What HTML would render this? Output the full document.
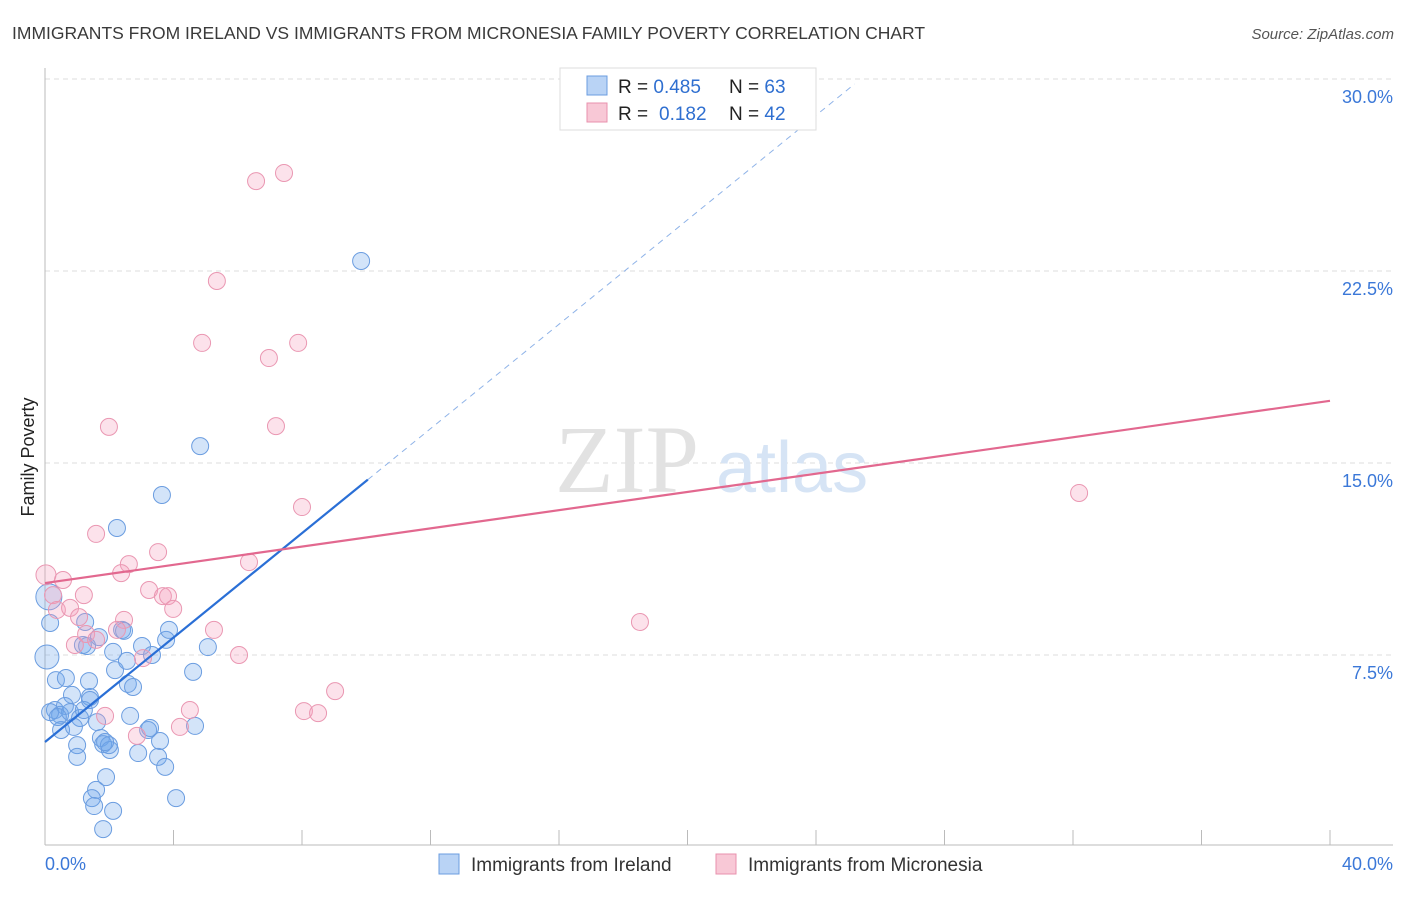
<!DOCTYPE html>
<html><head><meta charset="utf-8"><style>
body{margin:0;background:#fff;font-family:"Liberation Sans",sans-serif;}
</style></head><body>
<svg width="1406" height="892" xmlns="http://www.w3.org/2000/svg" style="font-family:'Liberation Sans',sans-serif">
<text x="12" y="39" font-size="17.5" fill="#3a3a3a">IMMIGRANTS FROM IRELAND VS IMMIGRANTS FROM MICRONESIA FAMILY POVERTY CORRELATION CHART</text>
<text x="1394" y="39" font-size="15" fill="#555" font-style="italic" text-anchor="end">Source: ZipAtlas.com</text>
<g id="grid"></g>
<g id="axes"></g>
<text x="555" y="492" font-size="96" fill="#e2e2e2" font-family="Liberation Serif">ZIP</text>
<text x="716" y="492" font-size="72" fill="#d6e4f5">atlas</text>
<g id="pts"></g>
<g id="lines"></g>
<text transform="translate(34,457) rotate(-90)" font-size="18" fill="#222" text-anchor="middle">Family Poverty</text>
<text x="45" y="870" font-size="18" fill="#3b78d8">0.0%</text>
<text x="1393" y="870" font-size="18" fill="#3b78d8" text-anchor="end">40.0%</text>
<g>
<rect x="560" y="68" width="256" height="62" fill="#fff" stroke="#ddd"/>
<rect x="587" y="76" width="20" height="19" fill="#b9d3f5" stroke="#6b9de0"/>
<rect x="587" y="103" width="20" height="19" fill="#f8c8d6" stroke="#e891ad"/>
<text x="618" y="93" font-size="19" fill="#222">R = <tspan fill="#2f6fd0">0.485</tspan><tspan x="729">N = </tspan><tspan fill="#2f6fd0">63</tspan></text>
<text x="618" y="120" font-size="19" fill="#222">R = <tspan x="659" fill="#2f6fd0">0.182</tspan><tspan x="729">N = </tspan><tspan fill="#2f6fd0">42</tspan></text>
</g>
<g>
<rect x="439" y="854" width="20" height="20" fill="#b9d3f5" stroke="#6b9de0"/>
<text x="471" y="871" font-size="19" fill="#333">Immigrants from Ireland</text>
<rect x="716" y="854" width="20" height="20" fill="#f8c8d6" stroke="#e891ad"/>
<text x="748" y="871" font-size="19" fill="#333">Immigrants from Micronesia</text>
</g>
</svg>
<script>
const yTicks=[7.5,15,22.5,30];
const yTickLabels=["7.5%","15.0%","22.5%","30.0%"];
const xTicks=[0,4,8,12,16,20,24,28,32,36,40];
const irelandX=[9.84,4.83,3.64,2.24,0.12,0.16,0.06,1.25,1.18,1.31,1.68,2.40,2.46,2.12,3.02,3.77,3.86,3.33,5.07,2.18,2.55,2.58,2.74,4.61,0.34,0.65,1.37,0.84,1.40,0.31,0.47,0.62,0.78,1.09,1.21,1.62,0.16,0.50,0.90,2.65,3.21,4.67,1.00,1.00,1.74,1.81,2.02,2.90,3.58,3.52,3.74,1.90,1.59,1.46,1.53,2.12,4.08,1.81,3.27,0.40,1.99,1.87,1.40];
const irelandY=[22.89,15.66,13.75,12.46,9.77,8.75,7.42,8.79,7.89,7.85,8.20,8.48,8.44,7.62,7.85,8.09,8.48,7.50,7.81,6.91,7.27,6.37,6.25,6.84,6.52,6.60,6.48,5.94,5.86,5.35,5.16,5.51,5.27,5.04,5.35,4.88,5.27,4.57,4.69,5.12,4.57,4.73,3.98,3.52,4.26,4.02,3.79,3.67,4.14,3.52,3.13,2.73,2.23,1.91,1.60,1.41,1.91,0.70,4.65,5.08,3.98,4.10,5.74];
const micronesiaX=[7.44,6.57,5.35,4.89,7.88,6.97,1.99,7.19,8.00,1.59,3.52,6.35,2.61,2.37,0.03,0.56,3.24,0.25,1.21,3.67,3.83,3.99,0.37,0.78,1.06,2.46,5.26,1.28,1.59,2.24,3.05,6.04,0.93,9.03,4.51,8.06,8.50,1.87,2.86,4.20,18.52,32.19];
const micronesiaY=[26.33,26.01,22.11,19.69,19.69,19.10,16.41,16.44,13.28,12.23,11.52,11.13,11.05,10.70,10.63,10.43,10.04,9.84,9.84,9.80,9.80,9.30,9.26,9.34,8.98,8.87,8.48,8.32,8.09,8.48,7.38,7.50,7.89,6.09,5.35,5.31,5.23,5.12,4.34,4.69,8.79,13.83];
const irelandTrend=[4.10,1.02]; // intercept, slope
const micronesiaTrend=[10.31,0.178];
const irelandSolidEnd=10.05, irelandDashEnd=25.2;
const X=v=>45+v/40*1285, Y=v=>847-v/7.5*192;
const NS="http://www.w3.org/2000/svg";
function mk(t,a,p){const e=document.createElementNS(NS,t);for(const k in a)e.setAttribute(k,a[k]);p.appendChild(e);return e;}
const grid=document.getElementById('grid'),axes=document.getElementById('axes');
yTicks.forEach((t,i)=>{
 const l=mk('line',{x1:45,x2:1393,y1:Y(t),y2:Y(t),stroke:'#ddd','stroke-dasharray':'5,4'},grid);
 
 
 const tx=mk('text',{x:1393,y:Y(t)+24,'font-size':18,fill:'#3b78d8','text-anchor':'end'},grid);
 tx.textContent=yTickLabels[i];
 
 
});
const ax=mk('line',{x1:45,x2:1393,y1:845,y2:845,stroke:'#bbb'},axes);


const ay=mk('line',{x1:45,x2:45,y1:68,y2:845,stroke:'#bbb'},axes);


xTicks.slice(1).forEach(t=>{
 const l=mk('line',{x1:X(t),x2:X(t),y1:830,y2:845,stroke:'#bbb'},axes);
 
 
});
const pts=document.getElementById('pts');
const big={4:13,6:12};
irelandX.forEach((x,i)=>{
 const c=mk('circle',{cx:X(x),cy:Y(irelandY[i]),r:big[i]||8.5,fill:'rgba(110,165,235,0.3)',stroke:'#6b9de0','stroke-width':1},pts);
 
 
});
micronesiaX.forEach((x,i)=>{
 const c=mk('circle',{cx:X(x),cy:Y(micronesiaY[i]),r:i==14?10:8.5,fill:'rgba(245,160,190,0.3)',stroke:'#ea97b2','stroke-width':1},pts);
 
 
});
const lines=document.getElementById('lines');
const f=(tr,x)=>tr[0]+tr[1]*x;
const l1=mk('line',{x1:X(0),y1:Y(f(irelandTrend,0)),x2:X(irelandSolidEnd),y2:Y(f(irelandTrend,irelandSolidEnd)),stroke:'#2a6fd6','stroke-width':2.2},lines);


const l2=mk('line',{x1:X(irelandSolidEnd),y1:Y(f(irelandTrend,irelandSolidEnd)),x2:X(irelandDashEnd),y2:Y(f(irelandTrend,irelandDashEnd)),stroke:'#8fb3e8','stroke-width':1,'stroke-dasharray':'6,5'},lines);


const l3=mk('line',{x1:X(0),y1:Y(f(micronesiaTrend,0)),x2:X(40),y2:Y(f(micronesiaTrend,40)),stroke:'#e2688f','stroke-width':2.2},lines);


</script>
</body></html>
